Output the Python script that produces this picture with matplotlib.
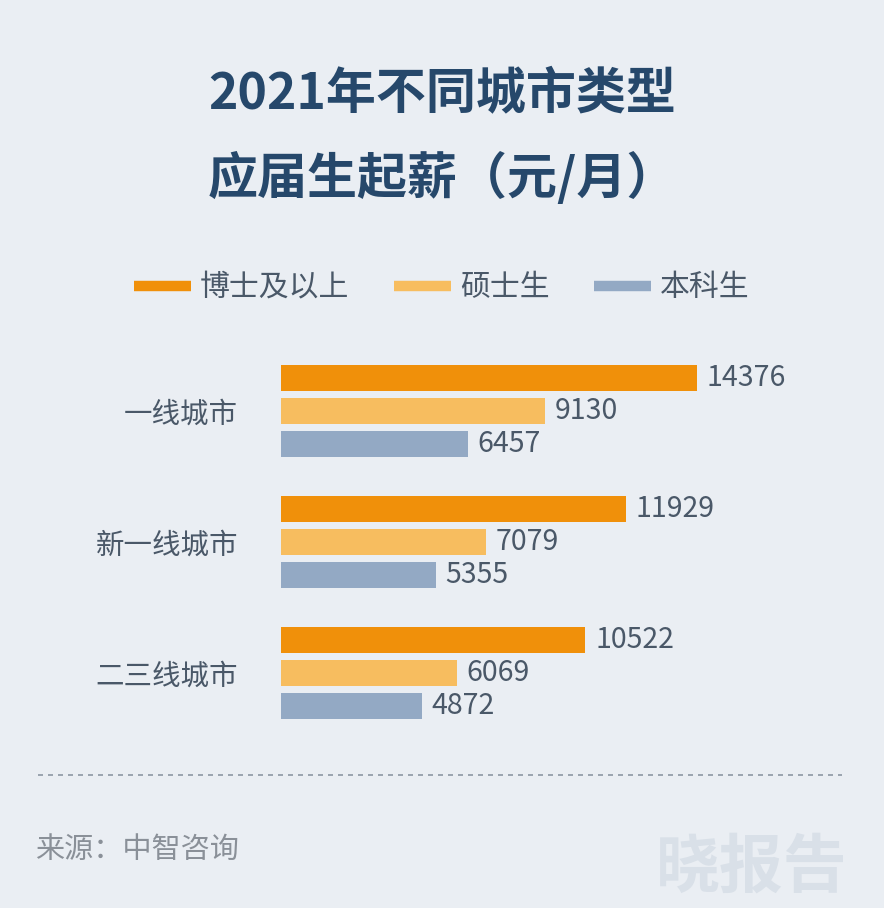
import numpy as np
import matplotlib
matplotlib.use('Agg')
import matplotlib.pyplot as plt
from matplotlib.lines import Line2D

plt.rcParams['font.family'] = ['Noto Sans CJK SC', 'DejaVu Sans']

# data
cities = ['一线城市', '新一线城市', '二三线城市']
series = ['博士及以上', '硕士生', '本科生']
phd = [14376, 11929, 10522]
master = [9130, 7079, 6069]
bachelor = [6457, 5355, 4872]

colors = ['#f0900a', '#f7bd5f', '#93a9c4']
bg = '#eaeef3'
txt = '#4a5868'

W, H = 884, 908
fig = plt.figure(figsize=(W / 100, H / 100), dpi=100, facecolor=bg)

# axes placed in pixel coordinates (left 281px, top 340px)
ax = fig.add_axes([281 / W, 1 - 750 / H, 600 / W, 410 / H])
ax.set_facecolor(bg)
ax.set_xlim(0, 600 / (416 / 14376))
ax.set_ylim(2.588, -0.542)

y = np.arange(len(cities))
pitch = 0.252
hgt = 0.2
for i, (vals, c) in enumerate(zip([phd, master, bachelor], colors)):
    bars = ax.barh(y + (i - 1) * pitch, vals, height=hgt, color=c, label=series[i])
    ax.bar_label(bars, labels=[str(v) for v in vals], padding=7,
                 fontsize=20.5, color=txt)

ax.set_yticks(y)
ax.set_yticklabels(cities, fontsize=20.5, color=txt)
ax.tick_params(axis='y', length=0, pad=31)
ax.set_xticks([])
for s in ax.spines.values():
    s.set_visible(False)

# title
fig.text(0.5, 1 - 95 / H, '2021年不同城市类型', ha='center', va='center',
         fontsize=36, fontweight='bold', color='#26486b')
fig.text(0.5, 1 - 178 / H, '应届生起薪（元/月）', ha='center', va='center',
         fontsize=36, fontweight='bold', color='#26486b')

# legend
handles = [Line2D([0], [0], color=c, lw=7.5, solid_capstyle='butt') for c in colors]
fig.legend(handles, series, loc='center', bbox_to_anchor=(0.5, 1 - 288 / H),
           ncol=3, frameon=False, fontsize=21.5, labelcolor=txt,
           handlelength=1.9, handletextpad=0.3, columnspacing=1.5)

# dashed separator
fig.add_artist(Line2D([38 / W, 842 / W], [1 - 775 / H, 1 - 775 / H],
                      color='#8d97a3', lw=1.2, ls=(0, (3, 3))))

# source + watermark
fig.text(35 / W, 1 - 850 / H, '来源：中智咨询', ha='left', va='center',
         fontsize=21, color='#8a9098')
fig.text(848 / W, 1 - 868 / H, '晓报告', ha='right', va='center',
         fontsize=46, fontweight='bold', color='#d9e0e8')

fig.savefig('out.png', dpi=100, facecolor=bg)
